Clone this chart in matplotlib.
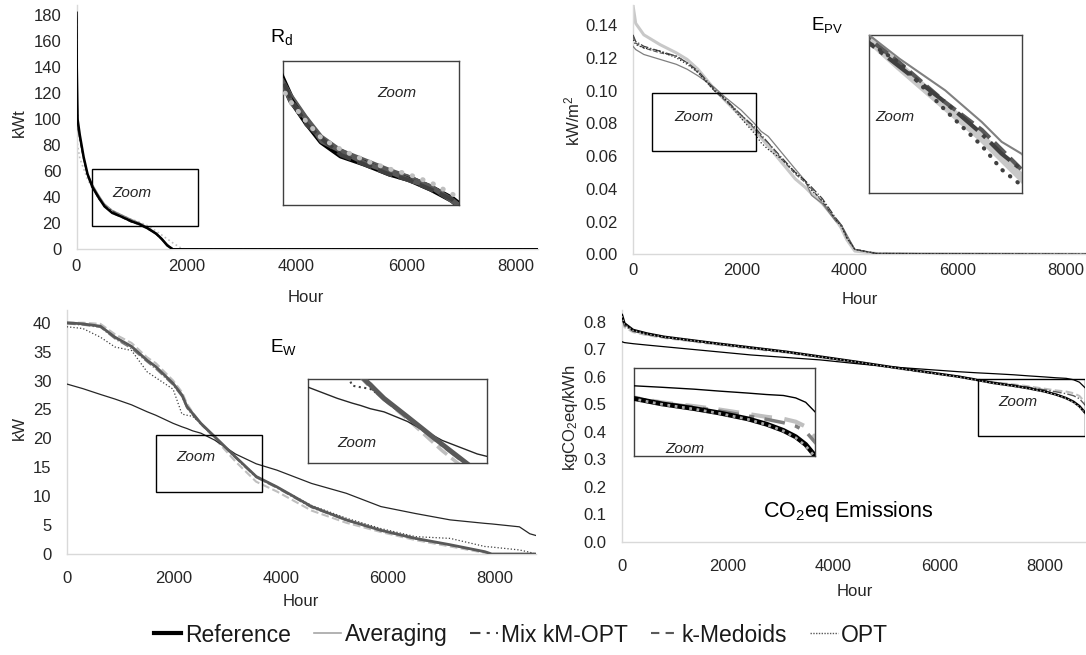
import numpy as np
import matplotlib
matplotlib.use('Agg')
import matplotlib.pyplot as plt
from matplotlib.patches import Rectangle
from matplotlib.lines import Line2D

plt.rcParams['font.family'] = ['Liberation Sans', 'DejaVu Sans']
plt.rcParams['mathtext.default'] = 'regular'

W, H = 1086, 655

SERIES = ["Reference", "Averaging", "Mix kM-OPT", "k-Medoids", "OPT"]
X_TICKS = [0, 2000, 4000, 6000, 8000]

# ---------------- R_d (heat demand, kWt) ----------------
RD_HOURS = [0, 5, 20, 60, 130, 200, 290, 400, 510, 650, 825, 1000, 1140, 1300,
            1450, 1550, 1650, 1750, 1900, 2000, 8760]
RD_REF = [182, 140, 100, 88, 71, 58, 48, 40, 33, 28, 25, 21.5, 19.5, 16, 12, 8, 3, 0, 0, 0, 0]
RD_AVG = [100, 97, 92, 85, 70, 58, 50, 42, 35, 30, 26.5, 23, 20.5, 17, 12.5, 8.5, 4, 0.5, 0, 0, 0]
RD_MIX = [180, 135, 98, 86, 70, 57, 47, 41, 33, 29.5, 25, 22, 19, 16.5, 11.5, 8, 3, 0, 0, 0, 0]
RD_KMED = [178, 130, 96, 85, 69, 58, 48, 39, 34, 28, 24.5, 21, 19, 15.5, 12, 7.5, 3.5, 0.5, 0, 0, 0]
RD_OPT = [95, 90, 80, 70, 62, 54, 47, 40, 34, 30, 26, 23, 21, 18, 14, 11, 8, 5, 1, 0, 0]
RD_TICKS = [0, 20, 40, 60, 80, 100, 120, 140, 160, 180]

# ---------------- E_PV (kW/m2) ----------------
PV_HOURS = [0, 50, 200, 500, 800, 1000, 1200, 1500, 1700, 2000, 2240, 2370, 2500, 2750,
            3000, 3180, 3300, 3500, 3750, 3850, 3950, 4100, 4500, 8760]
PV_REF = [0.152, 0.141, 0.134, 0.128, 0.123, 0.119, 0.113, 0.101, 0.094, 0.084, 0.076, 0.071,
          0.066, 0.056, 0.046, 0.041, 0.037, 0.031, 0.021, 0.016, 0.009, 0.002, 0.0005, 0]
PV_AVG = [0.127, 0.125, 0.122, 0.119, 0.116, 0.113, 0.109, 0.102, 0.096, 0.088, 0.080, 0.075,
          0.072, 0.062, 0.052, 0.045, 0.036, 0.031, 0.020, 0.018, 0.012, 0.003, 0.0005, 0]
PV_MIX = [0.134, 0.130, 0.127, 0.124, 0.121, 0.117, 0.112, 0.101, 0.095, 0.085, 0.078, 0.073,
          0.068, 0.059, 0.050, 0.045, 0.041, 0.034, 0.022, 0.018, 0.011, 0.003, 0.0005, 0]
PV_KMED = [0.133, 0.129, 0.126, 0.123, 0.121, 0.117, 0.111, 0.100, 0.094, 0.085, 0.077, 0.072,
           0.068, 0.058, 0.049, 0.044, 0.040, 0.032, 0.021, 0.018, 0.010, 0.003, 0.0005, 0]
PV_OPT = [0.131, 0.128, 0.126, 0.124, 0.120, 0.116, 0.111, 0.100, 0.095, 0.083, 0.074, 0.068,
          0.064, 0.058, 0.050, 0.045, 0.039, 0.033, 0.021, 0.017, 0.010, 0.003, 0.0005, 0]
PV_TICKS = [0.00, 0.02, 0.04, 0.06, 0.08, 0.10, 0.12, 0.14]

# ---------------- E_W (kW) ----------------
EW_HOURS = [0, 300, 627, 900, 1209, 1500, 1662, 1985, 2150, 2244, 2350, 2503, 2761, 3149,
            3537, 3925, 4572, 5219, 5866, 6512, 7159, 7806, 7935, 8452, 8646, 8760]
EW_REF = [40, 39.8, 39.4, 37.5, 35.9, 33.5, 32.4, 29.5, 27.5, 25.5, 24.3, 22.6, 20.3, 16.8,
          13.4, 11.6, 8.2, 5.9, 4.1, 2.7, 1.6, 0.4, 0, 0, 0, 0]
EW_AVG = [29.4, 28.6, 27.6, 26.8, 25.8, 24.6, 24.0, 22.6, 22.0, 21.7, 21.3, 20.9, 19.7, 17.3,
          15.6, 14.5, 12.2, 10.5, 8.2, 7.0, 5.9, 5.3, 5.2, 4.7, 3.5, 3.2]
EW_MIX = [39.8, 39.6, 39.2, 37.2, 35.5, 33.2, 32.0, 29.2, 27.2, 25.2, 24.0, 22.4, 20.2, 16.6,
          13.2, 11.4, 8.0, 5.8, 4.0, 2.6, 1.5, 0.3, 0, 0, 0, 0]
EW_KMED = [40, 40, 39.8, 38, 36.5, 34, 33, 30, 28, 26, 24.5, 22.5, 20, 16, 12.5, 10.8, 7.5,
           5.4, 3.8, 2.4, 1.3, 0.2, 0, 0, 0, 0]
EW_OPT = [39.3, 39.0, 37.5, 35.8, 35.2, 31.5, 30.5, 28.5, 24.2, 24.0, 23.8, 22.6, 20.2, 16.8,
          13.5, 11.6, 8.4, 6.2, 4.4, 3.0, 2.7, 1.3, 1.2, 0.7, 0.3, 0]
EW_TICKS = [0, 5, 10, 15, 20, 25, 30, 35, 40]

# ---------------- CO2eq emissions (kgCO2eq/kWh) ----------------
CO_HOURS = [0, 46, 210, 472, 800, 1128, 1784, 2439, 3095, 3751, 4406, 5062, 5718, 6373,
            6720, 7029, 7400, 7685, 8000, 8210, 8400, 8538, 8650, 8767]
CO_REF = [0.824, 0.794, 0.770, 0.757, 0.745, 0.737, 0.721, 0.706, 0.691, 0.673, 0.655, 0.636,
          0.618, 0.600, 0.588, 0.577, 0.567, 0.558, 0.546, 0.535, 0.522, 0.509, 0.493, 0.467]
CO_AVG = [0.727, 0.724, 0.720, 0.715, 0.709, 0.703, 0.691, 0.679, 0.670, 0.661, 0.648, 0.636,
          0.627, 0.618, 0.614, 0.611, 0.607, 0.603, 0.599, 0.596, 0.594, 0.589, 0.580, 0.558]
CO_MIX = [0.810, 0.785, 0.765, 0.753, 0.743, 0.735, 0.719, 0.704, 0.689, 0.671, 0.653, 0.635,
          0.617, 0.600, 0.589, 0.579, 0.570, 0.562, 0.552, 0.545, 0.538, 0.531, 0.520, 0.495]
CO_KMED = [0.800, 0.780, 0.762, 0.751, 0.741, 0.733, 0.717, 0.702, 0.688, 0.670, 0.652, 0.634,
           0.616, 0.600, 0.590, 0.580, 0.572, 0.565, 0.556, 0.550, 0.546, 0.540, 0.530, 0.505]
CO_OPT = [0.820, 0.790, 0.768, 0.755, 0.744, 0.736, 0.720, 0.705, 0.690, 0.672, 0.654, 0.635,
          0.617, 0.599, 0.587, 0.576, 0.566, 0.557, 0.545, 0.534, 0.521, 0.507, 0.490, 0.465]
CO_TICKS = [0.0, 0.1, 0.2, 0.3, 0.4, 0.5, 0.6, 0.7, 0.8]

# zoom rectangles on the main axes (x0, x1, y0, y1) and inset view limits
RD_BOX, RD_VIEW = (283, 2216, 18, 61.6), (230, 1500, 10, 62)
PV_BOX, PV_VIEW = (350, 2282, 0.0633, 0.0984), (1500, 2500, 0.062, 0.102)
EW_BOX, EW_VIEW = (1662, 3647, 10.7, 20.5), (1662, 3647, 14.5, 25)
CO_BOX, CO_VIEW = (6725, 8754, 0.386, 0.59), (6725, 8760, 0.47, 0.65)

fig = plt.figure(figsize=(W / 100, H / 100), dpi=100)


def px_axes(x0, y0, x1, y1):
    return fig.add_axes([x0 / W, 1 - y1 / H, (x1 - x0) / W, (y1 - y0) / H])


def ftext(x, y, s, **kw):
    fig.text(x / W, 1 - y / H, s, ha='center', va='center', **kw)


def style_main(ax, xmax, ymax, yticks, fmt, xpad):
    ax.set_xlim(0, xmax)
    ax.set_ylim(0, ymax)
    ax.set_xticks(X_TICKS)
    ax.set_yticks(yticks)
    ax.set_yticklabels([fmt.format(v) for v in yticks])
    for s in ['top', 'right']:
        ax.spines[s].set_visible(False)
    for s in ['left', 'bottom']:
        ax.spines[s].set_color('#d9d9d9')
        ax.spines[s].set_linewidth(1.0)
    ax.tick_params(axis='both', length=0, labelsize=12, colors='#262626')
    ax.tick_params(axis='x', pad=xpad)
    ax.tick_params(axis='y', pad=11)
    ax.patch.set_alpha(0)


def draw(ax, hours, data, styles):
    for name in SERIES:
        ax.plot(hours, data[name], **styles[name])


def make_inset(rect, view, hours, data, styles):
    ia = px_axes(*rect)
    draw(ia, hours, data, styles)
    ia.set_xlim(view[0], view[1])
    ia.set_ylim(view[2], view[3])
    ia.set_xticks([])
    ia.set_yticks([])
    for s in ia.spines.values():
        s.set_color('#404040')
        s.set_linewidth(1.0)
    return ia


def box(ax, b):
    ax.add_patch(Rectangle((b[0], b[2]), b[1] - b[0], b[3] - b[2], fill=False,
                           edgecolor='black', linewidth=1.0, zorder=10))


dots = dict(linestyle=(0, (0.1, 2.2)), dash_capstyle='round')

# ---------------- Panel 1: R_d ----------------
rd = dict(zip(SERIES, [RD_REF, RD_AVG, RD_MIX, RD_KMED, RD_OPT]))
rd_main = {
    "Reference": dict(color='black', lw=1.8, zorder=5),
    "Averaging": dict(color='#808080', lw=0.8, zorder=3),
    "Mix kM-OPT": dict(color='#404040', lw=1.0, ls='-.', zorder=4),
    "k-Medoids": dict(color='#595959', lw=1.0, ls='--', zorder=4),
    "OPT": dict(color='#bfbfbf', lw=1.2, ls=':', zorder=2),
}
rd_ins = {
    "Reference": dict(color='black', lw=5, zorder=3),
    "Averaging": dict(color='#595959', lw=1.5, zorder=4),
    "Mix kM-OPT": dict(color='#595959', lw=3.5, zorder=4),
    "k-Medoids": dict(color='#404040', lw=3, ls='--', zorder=4),
    "OPT": dict(color='#bfbfbf', lw=3.5, zorder=5, **dots),
}
ax1 = px_axes(76.5, 5, 538, 249.3)
draw(ax1, RD_HOURS, rd, rd_main)
style_main(ax1, 8397, 188, RD_TICKS, '{:.0f}', 6.7)
box(ax1, RD_BOX)
make_inset((283, 61, 459, 205), RD_VIEW, RD_HOURS, rd, rd_ins)

# ---------------- Panel 2: E_PV ----------------
pv = dict(zip(SERIES, [PV_REF, PV_AVG, PV_MIX, PV_KMED, PV_OPT]))
pv_main = {
    "Reference": dict(color='#c8c8c8', lw=2.2, zorder=2),
    "Averaging": dict(color='#7f7f7f', lw=0.9, zorder=3),
    "Mix kM-OPT": dict(color='#404040', lw=0.9, ls='-.', zorder=4),
    "k-Medoids": dict(color='#595959', lw=0.9, ls='--', zorder=4),
    "OPT": dict(color='#262626', lw=0.9, ls=':', zorder=4),
}
pv_ins = {
    "Reference": dict(color='#c8c8c8', lw=6, zorder=2),
    "Averaging": dict(color='#808080', lw=1.5, zorder=3),
    "Mix kM-OPT": dict(color='#595959', lw=3, ls='--', zorder=4),
    "k-Medoids": dict(color='#404040', lw=3, ls='-.', zorder=4),
    "OPT": dict(color='#404040', lw=3, zorder=5, **dots),
}
ax2 = px_axes(633, 5, 1086, 254.3)
draw(ax2, PV_HOURS, pv, pv_main)
style_main(ax2, 8373, 0.1522, PV_TICKS, '{:.2f}', 6)
box(ax2, PV_BOX)
make_inset((869, 35, 1021.5, 193.3), PV_VIEW, PV_HOURS, pv, pv_ins)

# ---------------- Panel 3: E_W ----------------
ew = dict(zip(SERIES, [EW_REF, EW_AVG, EW_MIX, EW_KMED, EW_OPT]))
ew_main = {
    "Reference": dict(color='#595959', lw=2.0, zorder=5),
    "Averaging": dict(color='#262626', lw=0.9, zorder=4),
    "Mix kM-OPT": dict(color='#7f7f7f', lw=1.0, ls='-.', zorder=3),
    "k-Medoids": dict(color='#bfbfbf', lw=1.5, ls='--', zorder=2),
    "OPT": dict(color='#404040', lw=0.9, ls=':', zorder=3),
}
ew_ins = {
    "Reference": dict(color='#595959', lw=3.5, zorder=5),
    "Averaging": dict(color='#262626', lw=1.0, zorder=4),
    "Mix kM-OPT": dict(color='#7f7f7f', lw=2, ls='-.', zorder=3),
    "k-Medoids": dict(color='#bfbfbf', lw=2.5, ls='--', zorder=2),
    "OPT": dict(color='#404040', lw=1.5, ls=':', zorder=3),
}
ax3 = px_axes(66.8, 310, 535.9, 554)
draw(ax3, EW_HOURS, ew, ew_main)
style_main(ax3, 8760, 42.2, EW_TICKS, '{:.0f}', 12.5)
box(ax3, EW_BOX)
make_inset((308.2, 379.3, 487.2, 462.7), EW_VIEW, EW_HOURS, ew, ew_ins)

# ---------------- Panel 4: CO2eq ----------------
co = dict(zip(SERIES, [CO_REF, CO_AVG, CO_MIX, CO_KMED, CO_OPT]))
co_main = {
    "Reference": dict(color='black', lw=1.8, zorder=4),
    "Averaging": dict(color='black', lw=0.9, zorder=4),
    "Mix kM-OPT": dict(color='#595959', lw=1.0, ls='-.', zorder=3),
    "k-Medoids": dict(color='#bfbfbf', lw=1.5, ls='--', zorder=2),
    "OPT": dict(color='#a6a6a6', lw=1.0, ls=':', zorder=5),
}
co_ins = {
    "Reference": dict(color='black', lw=3.5, zorder=4),
    "Averaging": dict(color='black', lw=1.0, zorder=4),
    "Mix kM-OPT": dict(color='#7f7f7f', lw=2.5, ls=(0, (6, 3, 1.5, 3)), zorder=3),
    "k-Medoids": dict(color='#bfbfbf', lw=3, ls=(0, (5, 3)), zorder=2),
    "OPT": dict(color='#a6a6a6', lw=2.0, ls=':', zorder=5),
}
ax4 = px_axes(622, 310, 1085.2, 541.7)
draw(ax4, CO_HOURS, co, co_main)
style_main(ax4, 8760, 0.8425, CO_TICKS, '{:.1f}', 12.4)
box(ax4, CO_BOX)
make_inset((634, 368.3, 815.5, 455.7), CO_VIEW, CO_HOURS, co, co_ins)

# ---------------- texts ----------------
ftext(282, 37, r'$R_{d}$', fontsize=14)
ftext(827, 25, r'$E_{PV}$', fontsize=13.5)
ftext(284, 347, r'$E_{W}$', fontsize=13.5)
ftext(848, 512, r'CO$_{2}$eq Emissions', fontsize=15.5)

for (x, y) in [(131.6, 192.7), (396.5, 93.3), (693.6, 116.7), (894.5, 116.7),
               (195.6, 456.7), (356.6, 443.3), (1017.4, 401.7), (685, 449.3)]:
    ftext(x, y, 'Zoom', fontsize=11, style='italic', color='#262626', zorder=20)

for (x, y) in [(306, 297), (860, 300), (301, 602), (855, 592)]:
    ftext(x, y, 'Hour', fontsize=12, color='#262626')

ftext(19, 123, 'kWt', fontsize=12, rotation=90, color='#262626')
ftext(572, 121, r'kW/m$^{2}$', fontsize=12, rotation=90, color='#262626')
ftext(19, 428, 'kW', fontsize=12, rotation=90, color='#262626')
ftext(571, 418, r'kgCO$_{2}$eq/kWh', fontsize=12, rotation=90, color='#262626')

# ---------------- legend ----------------
handles = [
    Line2D([], [], color='black', lw=3),
    Line2D([], [], color='#a6a6a6', lw=1.2),
    Line2D([], [], color='#404040', lw=1.5, ls=(0, (5, 3, 1.5, 3, 1.5, 3))),
    Line2D([], [], color='#595959', lw=1.5, ls=(0, (4, 3))),
    Line2D([], [], color='#595959', lw=1.0, ls=(0, (1, 1))),
]
fig.legend(handles, SERIES, ncol=5, loc='center', bbox_to_anchor=(521 / W, 1 - 635 / H),
           frameon=False, fontsize=16.5, handlelength=1.2, handletextpad=0.15,
           columnspacing=1.0, labelcolor='#1a1a1a')

fig.savefig('out.png', dpi=100)
